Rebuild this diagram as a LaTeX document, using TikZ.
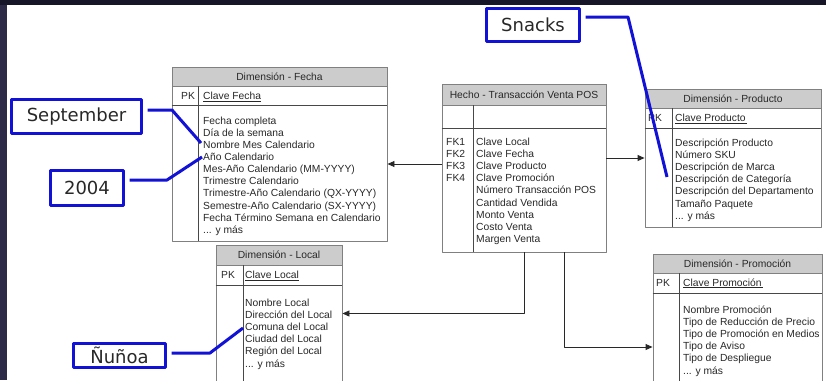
\documentclass[tikz,border=0pt]{standalone}
\usepackage{fontspec}
\setmainfont{Liberation Sans}
\newfontfamily\rotulo{DejaVu Sans}
\usetikzlibrary{arrows.meta}
\definecolor{marco}{RGB}{22,22,40}
\definecolor{marcoizq}{RGB}{44,42,70}
\definecolor{azul}{RGB}{18,18,215}
\definecolor{borde}{RGB}{128,128,128}
\definecolor{cabeza}{RGB}{204,204,204}
\definecolor{tinta}{RGB}{40,40,40}
\begin{document}
\begin{tikzpicture}[x=1pt,y=-1pt,>={Triangle[length=7pt,width=6pt]},
  font=\fontsize{10.3}{12.1}\selectfont, line join=round,
  tabla/.style={draw=borde, line width=0.9pt, fill=white, inner sep=0pt},
  titulo/.style={draw=borde, line width=0.9pt, fill=cabeza, inner sep=0pt, text=tinta},
  campo/.style={anchor=base west, inner sep=0pt, align=left, text=tinta},
  fila/.style={draw=tinta!85, line width=0.8pt},
  flecha/.style={->, draw=tinta, line width=0.9pt},
  nota/.style={draw=azul, line width=3pt, fill=white, inner sep=0pt, text=tinta,
    font=\rotulo\fontsize{18}{18}\selectfont},
  enlace/.style={draw=azul, line width=3pt, shorten <=4.5pt}]
\clip (0,0) rectangle (826,380);
\fill[white] (0,0) rectangle (826,380);
\fill[marcoizq] (0,0) rectangle (7,380);
\fill[marco] (0,0) rectangle (826,5);

% Dimensión - Fecha (las listas se anclan en la última línea)
\node[tabla, minimum width=215, minimum height=174] (fecha) at (279.5,154) {};
\node[titulo, minimum width=215, minimum height=19, anchor=north] (fechaT) at (fecha.north) {Dimensión - Fecha};
\draw[fila] (fecha.west |- 0,105) -- (fecha.east |- 0,105);
\draw[fila] (198,0 |- fechaT.south) -- (198,0 |- fecha.south);
\node[campo] (fechaPK) at (181,99.3) {PK};
\node[campo] (fechaK) at (203,99.3) {\underline{Clave Fecha}};
\node[campo] (fechaL) at (203,233.2) {Fecha completa\\Día de la semana\\Nombre Mes Calendario\\Año Calendario\\
  Mes-Año Calendario (MM-YYYY)\\Trimestre Calendario\\Trimestre-Año Calendario (QX-YYYY)\\
  Semestre-Año Calendario (SX-YYYY)\\Fecha Término Semana en Calendario\\... y más};

% Hecho - Transacción Venta POS
\node[tabla, minimum width=164, minimum height=168] (hecho) at (524,168) {};
\node[titulo, minimum width=164, minimum height=21, anchor=north] (hechoT) at (hecho.north) {Hecho - Transacción Venta POS};
\draw[fila] (hecho.west |- 0,128) -- (hecho.east |- 0,128);
\draw[fila] (473,0 |- hechoT.south) -- (473,0 |- hecho.south);
\node[campo] (hechoFK) at (446,181.8) {FK1\\FK2\\FK3\\FK4};
\node[campo] (hechoL) at (476,242.3) {Clave Local\\Clave Fecha\\Clave Producto\\Clave Promoción\\
  Número Transacción POS\\Cantidad Vendida\\Monto Venta\\Costo Venta\\Margen Venta};

% Dimensión - Producto
\node[tabla, minimum width=176, minimum height=138] (producto) at (733,158) {};
\node[titulo, minimum width=176, minimum height=19, anchor=north] (productoT) at (producto.north) {Dimensión - Producto};
\draw[fila] (producto.west |- 0,128) -- (producto.east |- 0,128);
\draw[fila] (672,0 |- productoT.south) -- (672,0 |- producto.south);
\node[campo] (productoPK) at (648,121.7) {PK};
\node[campo] (productoK) at (675,121.7) {\underline{Clave Producto\,}};
\node[campo] (productoL) at (675,219.1) {Descripción Producto\\Número SKU\\Descripción de Marca\\
  Descripción de Categoría\\Descripción del Departamento\\Tamaño Paquete\\... y más};

% Dimensión - Local
\node[tabla, minimum width=126, minimum height=137] (local) at (279,313.5) {};
\node[titulo, minimum width=126, minimum height=20, anchor=north] (localT) at (local.north) {Dimensión - Local};
\draw[fila] (local.west |- 0,285) -- (local.east |- 0,285);
\draw[fila] (243,0 |- localT.south) -- (243,0 |- local.south);
\node[campo] (localPK) at (221,278.7) {PK};
\node[campo] (localK) at (245,278.7) {\underline{Clave Local}};
\node[campo] (localL) at (245,367) {Nombre Local\\Dirección del Local\\Comuna del Local\\
  Ciudad del Local\\Región del Local\\... y más};

% Dimensión - Promoción
\node[tabla, minimum width=169, minimum height=130] (promo) at (737.5,319) {};
\node[titulo, minimum width=169, minimum height=19, anchor=north] (promoT) at (promo.north) {Dimensión - Promoción};
\draw[fila] (promo.west |- 0,293) -- (promo.east |- 0,293);
\draw[fila] (679,0 |- promoT.south) -- (679,0 |- promo.south);
\node[campo] (promoPK) at (656,286) {PK};
\node[campo] (promoK) at (683,286) {\underline{Clave Promoción\,}};
\node[campo] (promoL) at (683,374) {Nombre Promoción\\Tipo de Reducción de Precio\\Tipo de Promoción en Medios\\
  Tipo de Aviso\\Tipo de Despliegue\\... y más};

% relaciones
\coordinate (hf) at ([yshift=4pt]hecho.west);
\draw[flecha] (hf) -- (fecha.east |- hf);
\draw[flecha] (hecho.east |- producto.west) -- (producto.west);
\draw[flecha] (hecho.south) |- (local.east);
\draw[flecha] ([xshift=40pt]hecho.south) |- ([yshift=-28pt]promo.west);

% ejemplos
\node[nota, minimum width=93, minimum height=33] (snacks) at (533,25) {Snacks};
\node[nota, minimum width=130, minimum height=34] (sept) at (76.5,116.5) {September};
\node[nota, minimum width=73, minimum height=35] (anio) at (87,188) {2004};
\node[nota, minimum width=92, minimum height=24] (comuna) at (119.5,355.5) {Ñuñoa};
\coordinate (cat) at (667,177);
\coordinate (mes) at (201,143);
\coordinate (ano) at (202,157);
\coordinate (com) at (243,328);
\draw[enlace] ([yshift=8pt]snacks.east) -- ++(47,0) -- (cat);
\draw[enlace] ([yshift=6.5pt]sept.east) -- ++(29,0) -- (mes);
\draw[enlace] ([yshift=8pt]anio.east) -- ++(42,0) -- (ano);
\draw[enlace] ([yshift=2.5pt]comuna.east) -- ++(43,0) -- (com);
\end{tikzpicture}
\end{document}
